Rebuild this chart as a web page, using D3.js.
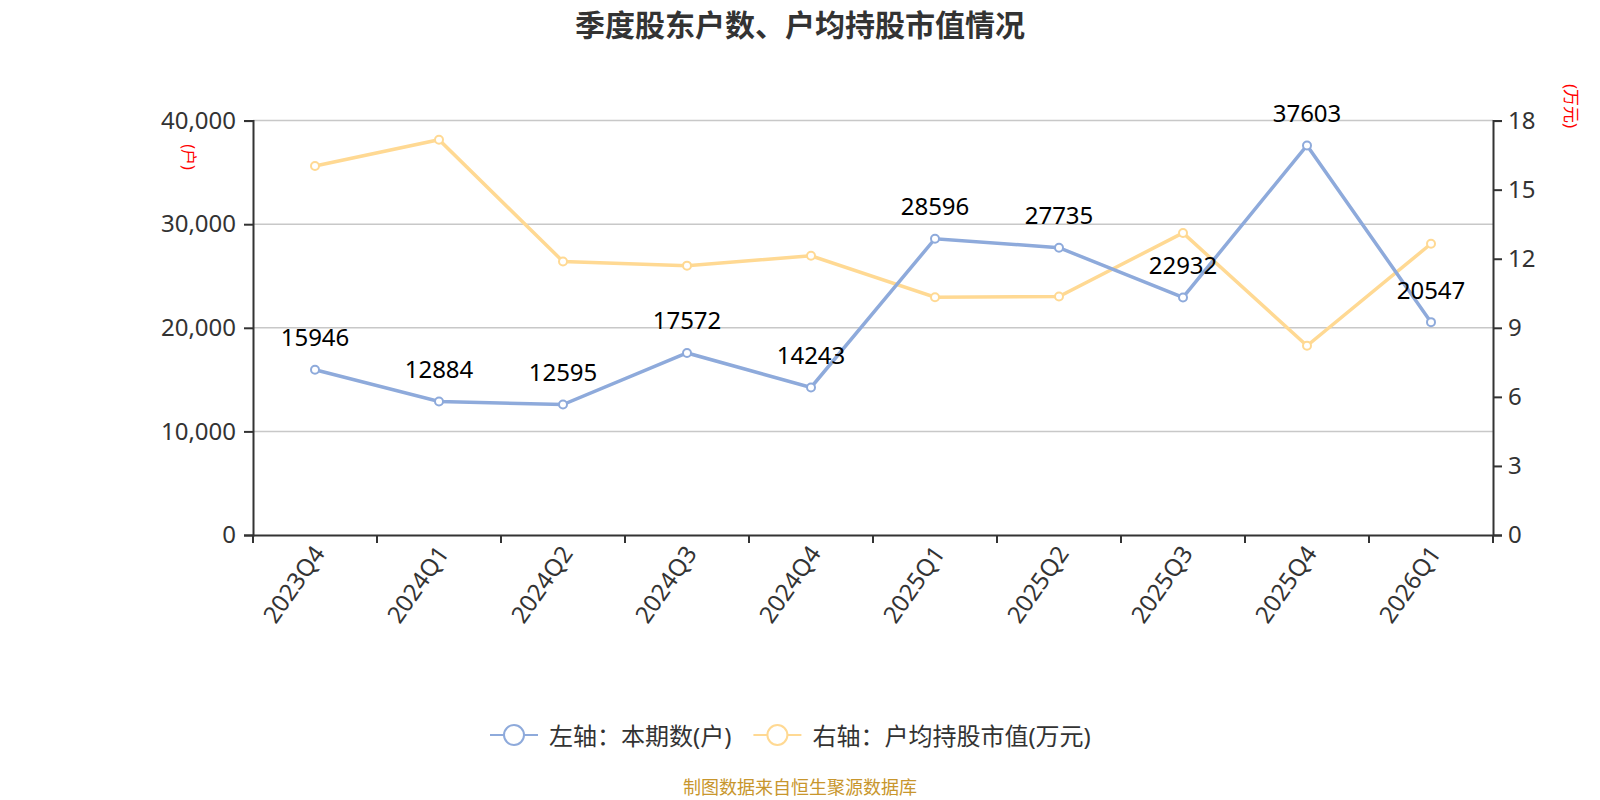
<!DOCTYPE html>
<html><head><meta charset="utf-8">
<script src="https://cdn.jsdelivr.net/npm/d3@7/dist/d3.min.js"></script>
<style>
html,body{margin:0;padding:0;background:#fff;}
svg{display:block;font-family:"Noto Sans","Noto Sans CJK SC",sans-serif;}
</style></head>
<body>
<svg id="chart" width="1600" height="800"></svg>
<script>
const categories = ["2023Q4","2024Q1","2024Q2","2024Q3","2024Q4","2025Q1","2025Q2","2025Q3","2025Q4","2026Q1"];
const holders = [15946,12884,12595,17572,14243,28596,27735,22932,37603,20547];
const avgValue = [16.03,17.17,11.88,11.70,12.13,10.33,10.36,13.12,8.22,12.65];
const leftTicks = [0,10000,20000,30000,40000];
const rightTicks = [0,3,6,9,12,15,18];
const seriesNames = ["左轴：本期数(户)","右轴：户均持股市值(万元)"];
const title = "季度股东户数、户均持股市值情况";
const footer = "制图数据来自恒生聚源数据库";
const leftUnit = "(户)", rightUnit = "(万元)";

const blue = "#8eaadb", orange = "#ffd993";
const svg = d3.select("#chart");
const L = 253, R = 1493, T = 120.6, B = 535;
const x = d3.scaleBand().domain(categories).range([L, R]).padding(0);
const yL = d3.scaleLinear().domain([0, 40000]).range([B, T]);
const yR = d3.scaleLinear().domain([0, 18]).range([B, T]);
const fmt = d3.format(",");
const FF = '"Noto Sans","Noto Sans CJK SC",sans-serif';

// title
svg.append("text").attr("x", 800).attr("y", 23).attr("text-anchor", "middle")
  .attr("dominant-baseline", "central").attr("font-size", 30).attr("font-weight", "bold")
  .attr("font-family", '"Noto Sans CJK SC",sans-serif')
  .attr("fill", "#333").text(title);

// grid
svg.append("g").selectAll("line").data(leftTicks.filter(d => d > 0)).join("line")
  .attr("x1", L).attr("x2", R).attr("y1", d => yL(d)).attr("y2", d => yL(d))
  .attr("stroke", "#c8c8c8").attr("stroke-width", 1.5);

// left axis
const gL = svg.append("g").attr("transform", `translate(${L},0)`)
  .call(d3.axisLeft(yL).tickValues(leftTicks).tickFormat(fmt).tickSize(9).tickPadding(8));
// right axis
const gR = svg.append("g").attr("transform", `translate(${R},0)`)
  .call(d3.axisRight(yR).tickValues(rightTicks).tickSize(9).tickPadding(6));
// bottom axis
const gB = svg.append("g").attr("transform", `translate(0,${B})`)
  .call(d3.axisBottom(x).tickSize(0).tickFormat(""));
[gL, gR].forEach(g => {
  g.select(".domain").attr("stroke", "#333").attr("stroke-width", 2);
  g.selectAll(".tick line").attr("stroke", "#333").attr("stroke-width", 2);
  g.selectAll(".tick text").attr("font-size", 24).attr("fill", "#333").attr("font-family", FF);
});
gB.select(".domain").attr("stroke", "#333").attr("stroke-width", 2);
// bottom ticks at band boundaries
const bounds = categories.map(c => x(c)).concat([R]);
svg.append("g").selectAll("line").data(bounds).join("line")
  .attr("x1", d => d).attr("x2", d => d).attr("y1", B).attr("y2", B + 8)
  .attr("stroke", "#333").attr("stroke-width", 2);
// bottom labels
svg.append("g").selectAll("text").data(categories).join("text")
  .attr("transform", d => `translate(${x(d) + x.bandwidth() / 2 + 3},${B + 13}) rotate(-55)`)
  .attr("text-anchor", "end").attr("dominant-baseline", "central")
  .attr("font-size", 24).attr("fill", "#333").text(d => d);

// unit labels
svg.append("text").attr("transform", "translate(189,157) rotate(90)")
  .attr("text-anchor", "middle").attr("dominant-baseline", "central")
  .attr("font-size", 16).attr("fill", "red").text(leftUnit);
svg.append("text").attr("transform", "translate(1571,106) rotate(90)")
  .attr("text-anchor", "middle").attr("dominant-baseline", "central")
  .attr("font-size", 17).attr("fill", "red").text(rightUnit);

const cx = d => x(d) + x.bandwidth() / 2;
// orange line
svg.append("path").datum(avgValue)
  .attr("d", d3.line().x((d, i) => cx(categories[i])).y(d => yR(d)))
  .attr("fill", "none").attr("stroke", orange).attr("stroke-width", 3.5);
// blue line
svg.append("path").datum(holders)
  .attr("d", d3.line().x((d, i) => cx(categories[i])).y(d => yL(d)))
  .attr("fill", "none").attr("stroke", blue).attr("stroke-width", 3.5);
// markers
svg.append("g").selectAll("circle").data(avgValue).join("circle")
  .attr("cx", (d, i) => cx(categories[i])).attr("cy", d => yR(d)).attr("r", 4)
  .attr("fill", "#fff").attr("stroke", orange).attr("stroke-width", 2);
svg.append("g").selectAll("circle").data(holders).join("circle")
  .attr("cx", (d, i) => cx(categories[i])).attr("cy", d => yL(d)).attr("r", 4)
  .attr("fill", "#fff").attr("stroke", blue).attr("stroke-width", 2);
// labels
svg.append("g").selectAll("text").data(holders).join("text")
  .attr("x", (d, i) => cx(categories[i])).attr("y", d => yL(d) - 33)
  .attr("text-anchor", "middle").attr("dominant-baseline", "central")
  .attr("font-size", 24).attr("fill", "#000").text(d => d);

// legend
const lg = svg.append("g");
const items = [{name: seriesNames[0], c: blue}, {name: seriesNames[1], c: orange}];
let lx = 490; const ly = 735;
items.forEach((it, i) => {
  lg.append("line").attr("x1", lx).attr("x2", lx + 48).attr("y1", ly).attr("y2", ly)
    .attr("stroke", it.c).attr("stroke-width", 2);
  lg.append("circle").attr("cx", lx + 24).attr("cy", ly).attr("r", 10)
    .attr("fill", "#fff").attr("stroke", it.c).attr("stroke-width", 2);
  const t = lg.append("text").attr("x", lx + 59).attr("y", ly).attr("dominant-baseline", "central")
    .attr("font-size", 24).attr("fill", "#333").text(it.name);
  lx = lx + 59 + t.node().getComputedTextLength() + 22;
});

// footer
svg.append("text").attr("x", 800).attr("y", 786).attr("text-anchor", "middle")
  .attr("dominant-baseline", "central").attr("font-size", 18).attr("fill", "#c8962d")
  .attr("font-family", '"Noto Sans CJK SC",sans-serif').text(footer);
</script>
</body></html>
